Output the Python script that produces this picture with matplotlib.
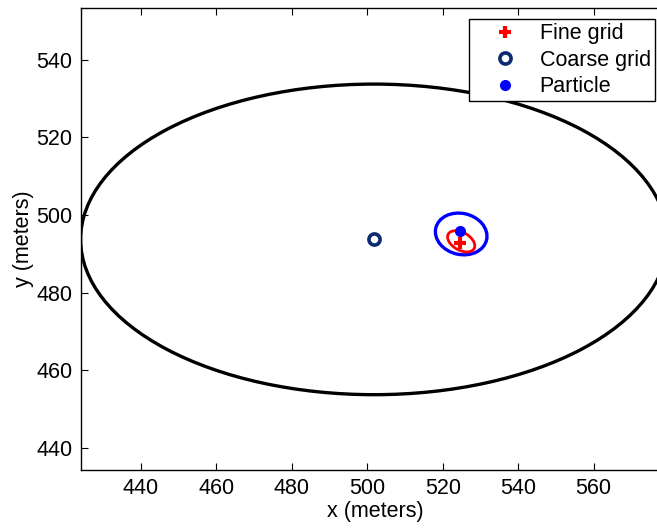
import numpy as np
import matplotlib
matplotlib.use("Agg")
import matplotlib.pyplot as plt
from matplotlib.patches import Ellipse

plt.rcParams['font.family'] = ['Liberation Sans', 'DejaVu Sans']

# Estimates (x, y) in meters
fine_grid = (524.6, 492.8)
coarse_grid = (501.8, 493.7)
particle = (524.6, 495.9)

# Uncertainty ellipses: center x, center y, width, height, angle (deg)
coarse_ellipse = (501.8, 493.7, 155.6, 80.0, 0.0)
particle_ellipse = (524.9, 495.1, 13.8, 10.6, -12.0)
fine_ellipse = (524.9, 493.2, 7.8, 4.6, -28.0)

xticks = [440, 460, 480, 500, 520, 540, 560]
yticks = [440, 460, 480, 500, 520, 540]
xlim = (424.1, 580.0)
ylim = (434.3, 553.3)

fig = plt.figure(figsize=(6.57, 5.30), dpi=100)
ax = fig.add_axes([81 / 657, 60 / 530, 588 / 657, 462 / 530])

for (cx, cy, w, h, ang), col, lw in [
    (coarse_ellipse, 'black', 2.4),
    (particle_ellipse, '#0000ff', 2.4),
    (fine_ellipse, '#ff0000', 2.0),
]:
    ax.add_patch(Ellipse((cx, cy), w, h, angle=ang, fill=False,
                         edgecolor=col, linewidth=lw, zorder=2))

ax.plot(*fine_grid, linestyle='none', marker='+', color='#ff0000',
        markersize=9, markeredgewidth=3, label='Fine grid', zorder=4)
ax.plot(*coarse_grid, linestyle='none', marker='o', markerfacecolor='none',
        markeredgecolor='#0b2a6f', markersize=8, markeredgewidth=2.6,
        label='Coarse grid', zorder=4)
ax.plot(*particle, linestyle='none', marker='o', color='#0000ff',
        markersize=7, label='Particle', zorder=3)

ax.set_xlim(*xlim)
ax.set_ylim(*ylim)
ax.set_xticks(xticks)
ax.set_yticks(yticks)
ax.tick_params(direction='in', length=5, width=0.8, labelsize=15.5,
               top=True, right=True, pad=6)
for s in ax.spines.values():
    s.set_linewidth(1.0)
ax.set_xlabel('x (meters)', fontsize=15.5, labelpad=1)
ax.set_ylabel('y (meters)', fontsize=15.5, labelpad=2)

leg = ax.legend(loc='upper right', bbox_to_anchor=(655 / 657, 1 - 19 / 530),
                bbox_transform=fig.transFigure, fontsize=15.5, frameon=True,
                fancybox=False, edgecolor='black', framealpha=1,
                borderpad=0.2, labelspacing=0.25, handletextpad=0.1,
                handlelength=3.0, borderaxespad=0)
leg.get_frame().set_linewidth(1.0)

fig.savefig('out.png', dpi=100)
